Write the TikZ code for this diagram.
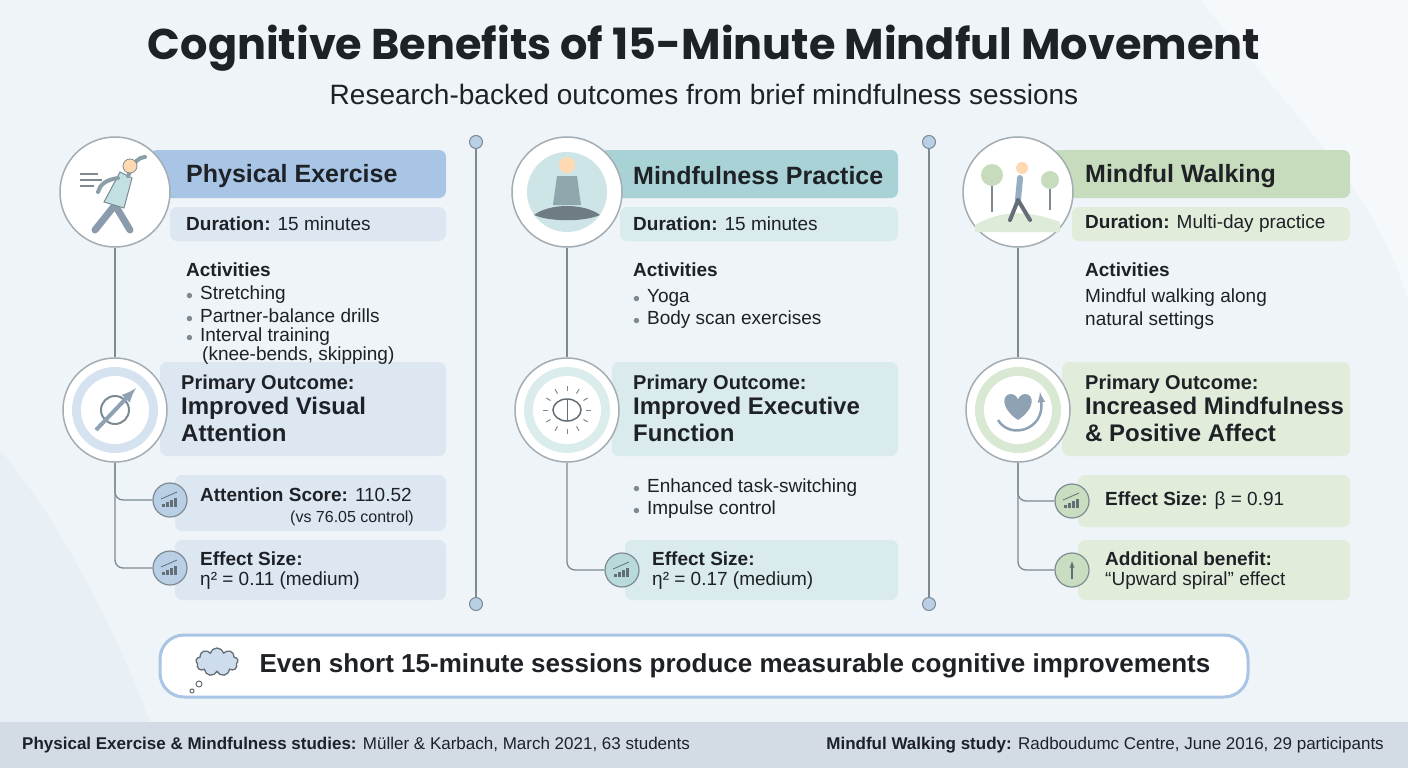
\documentclass[tikz,border=0pt]{standalone}
\usepackage{fontspec}
\setmainfont{Liberation Sans}
\newfontfamily\titlefont{Poppins}
\usetikzlibrary{shapes.geometric,shapes.symbols,calc}
\definecolor{bg}{HTML}{EEF4F7}
\definecolor{ink}{HTML}{1E2126}
\definecolor{lineg}{HTML}{7D8A92}
\definecolor{hA}{HTML}{A9C5E5}\definecolor{lA}{HTML}{DDE7F2}\definecolor{cA}{HTML}{B9CFE6}
\definecolor{hB}{HTML}{A8D2D5}\definecolor{lB}{HTML}{D9EBEC}\definecolor{cB}{HTML}{B8DADB}
\definecolor{hC}{HTML}{C6DCBC}\definecolor{lC}{HTML}{E2ECDB}\definecolor{cC}{HTML}{C9DEC0}
\definecolor{foot}{HTML}{D3DCE5}
\tikzset{
 px/.style={x=1pt,y=-1pt},
 bar/.style={rounded corners=7pt,draw=none},
 txt/.style={anchor=west,inner sep=0,text=ink,font=\fontsize{19}{23}\selectfont},
 hd/.style={anchor=west,inner sep=0,text=ink,font=\fontsize{25}{28}\selectfont\bfseries},
 big/.style={anchor=north west,inner sep=0,text=ink,align=left,font=\fontsize{24}{27}\selectfont\bfseries},
 conn/.style={draw=lineg,line width=1.3pt,rounded corners=8pt},
 icon/.style={circle,draw=lineg!70,line width=1.5pt,fill=white,minimum size=110pt},
 oicon/.style={circle,draw=lineg!70,line width=1.5pt,fill=white,minimum size=104pt},
 sm/.style={circle,draw=lineg,line width=1.2pt,minimum size=34pt},
 dot/.style={circle,draw=lineg,fill=cA,line width=1pt,minimum size=13pt,inner sep=0},
}
\newcommand{\bl}{\textcolor{lineg}{\scalebox{0.8}{$\bullet$}}\hspace{7pt}}
\begin{document}
\begin{tikzpicture}[px]
\useasboundingbox (0,0) rectangle (1408,768);
\fill[bg] (0,0) rectangle (1408,768);
\fill[white,opacity=0.5] (1200,0) .. controls (1300,120) and (1380,200) .. (1408,300) -- (1408,0) -- cycle;
\fill[cA!40,opacity=0.5] (0,450) .. controls (60,520) and (120,640) .. (150,722) -- (0,722) -- cycle;
% title
\node[font=\titlefont\fontsize{43}{46}\selectfont\bfseries,text=ink] (title) at (704,48) {Cognitive Benefits of 15-Minute Mindful Movement};
\node[font=\fontsize{28}{32}\selectfont,text=ink] (sub) at (704,94) {Research-backed outcomes from brief mindfulness sessions};
% dividers
\foreach \x/\n in {476/d1,929/d2}{
 \node[dot] (\n t) at (\x,142) {};
 \node[dot] (\n b) at (\x,604) {};
 \draw[lineg,line width=1.2pt] (\n t) -- (\n b);
}
% ================= column A
\fill[hA,bar] (150,150) rectangle (446,198);
\fill[lA,bar] (170,207) rectangle (446,241);
\fill[lA,bar] (160,362) rectangle (446,456);
\fill[lA,bar] (175,475) rectangle (446,531);
\fill[lA,bar] (175,540) rectangle (446,600);
\node[icon] (iA) at (115,192) {};
\node[oicon] (oA) at (115,410) {};
\node[circle,fill=cA!60,minimum size=86pt] at (oA) {};
\node[circle,fill=white,minimum size=68pt] at (oA) {};
\draw[conn] (iA) -- (oA);
\node[sm,fill=cA] (sA1) at (170,500) {};
\node[sm,fill=cA] (sA2) at (170,568) {};
\draw[conn] (oA) |- (sA1);
\draw[conn] (oA) |- (sA2);
% icon A: stretching figure
\draw[lineg!70!hA,line width=7pt,line cap=round] (95,230) -- (115,205) -- (130,230);
\fill[hB!70,draw=lineg,line width=1pt] (104,202) -- (124,208) -- (132,178) -- (120,172) -- cycle;
\draw[lineg!70!hB,line width=4pt,line cap=round] (118,178) .. controls (105,180) and (100,185) .. (98,192);
\draw[lineg!70!hB,line width=4pt,line cap=round] (128,176) .. controls (135,160) and (138,158) .. (145,157);
\fill[orange!30,draw=lineg,line width=0.8pt] (130,166) circle (7);
\foreach \yy/\l in {174/18,180/22,186/14}{\draw[lineg,line width=1.5pt] (80,\yy) -- ++(\l,0);}
% outcome icon A
\draw[lineg,line width=2pt] (115,410) circle (14);
\draw[-latex,line width=4pt,lineg!60!hA] (96,430) -- (136,388);
\node[hd] (hA) at (186,176) {Physical Exercise};
\node[txt] (duA) at (186,224) {\textbf{Duration:} 15 minutes};
\node[txt,font=\fontsize{19}{23}\selectfont\bfseries] (acA) at (186,270) {Activities};
\node[txt] (a1) at (186,295) {\bl Stretching};
\node[txt] (a2) at (186,316) {\bl Partner-balance drills};
\node[txt] (a3) at (186,337) {\bl Interval training};
\node[txt] (a4) at (202,356) {(knee-bends, skipping)};
\node[txt,font=\fontsize{20}{23}\selectfont\bfseries] (pA) at (181,384) {Primary Outcome:};
\node[big] (bA) at (181,397) {Improved Visual\\Attention};
\node[txt] (mA1) at (200,495) {\textbf{Attention Score:} 110.52};
\node[txt,font=\fontsize{16}{18}\selectfont] (mA1b) at (290,518) {(vs 76.05 control)};
\node[txt] (mA2) at (200,559) {\textbf{Effect Size:}};
\node[txt] (mA2b) at (200,581) {η² = 0.11 (medium)};
% ================= column B
\fill[hB,bar] (600,150) rectangle (898,198);
\fill[lB,bar] (620,207) rectangle (898,241);
\fill[lB,bar] (612,362) rectangle (898,456);
\fill[lB,bar] (625,540) rectangle (898,600);
\node[icon] (iB) at (567,192) {};
\node[circle,fill=cB!70,minimum size=80pt] at (iB) {};
\node[oicon] (oB) at (567,410) {};
\node[circle,fill=cB!50,minimum size=86pt] at (oB) {};
\node[circle,fill=white,minimum size=68pt] at (oB) {};
\draw[conn] (iB) -- (oB);
\node[sm,fill=cB] (sB1) at (622,570) {};
\draw[conn] (oB) |- (sB1);
% meditating figure
\fill[orange!30] (567,165) circle (8);
\fill[lineg!60!hB] (557,176) -- (577,176) -- (581,205) -- (553,205) -- cycle;
\fill[lineg!90!black] (534,215) .. controls (550,203) and (584,203) .. (600,215) .. controls (584,222) and (550,222) .. (534,215) -- cycle;
% brain
\draw[lineg!80!black,line width=1.5pt,fill=white] (567,410) ellipse (14 and 11);
\draw[lineg!80!black,line width=1pt] (567,399) -- (567,421);
\foreach \a in {0,30,...,330}{\draw[lineg,line width=1pt] ($(567,410)+(\a:19)$) -- ($(567,410)+(\a:24)$);}
\node[hd] (hB) at (633,176) {Mindfulness Practice};
\node[txt] (duB) at (633,224) {\textbf{Duration:} 15 minutes};
\node[txt,font=\fontsize{19}{23}\selectfont\bfseries] (acB) at (633,270) {Activities};
\node[txt] (b1) at (633,298) {\bl Yoga};
\node[txt] (b2) at (633,320) {\bl Body scan exercises};
\node[txt,font=\fontsize{20}{23}\selectfont\bfseries] (pB) at (633,384) {Primary Outcome:};
\node[big] (bBig) at (633,397) {Improved Executive\\Function};
\node[txt] (b3) at (633,488) {\bl Enhanced task-switching};
\node[txt] (b4) at (633,510) {\bl Impulse control};
\node[txt] (mB) at (652,559) {\textbf{Effect Size:}};
\node[txt] (mBb) at (652,581) {η² = 0.17 (medium)};
% ================= column C
\fill[hC,bar] (1052,150) rectangle (1350,198);
\fill[lC,bar] (1072,207) rectangle (1350,241);
\fill[lC,bar] (1062,362) rectangle (1350,456);
\fill[lC,bar] (1078,475) rectangle (1350,527);
\fill[lC,bar] (1078,540) rectangle (1350,600);
\node[icon] (iC) at (1018,192) {};
\node[oicon] (oC) at (1018,410) {};
\node[circle,fill=cC!70,minimum size=86pt] at (oC) {};
\node[circle,fill=white,minimum size=68pt] at (oC) {};
\draw[conn] (iC) -- (oC);
\node[sm,fill=cC] (sC1) at (1072,501) {};
\node[sm,fill=cC] (sC2) at (1072,570) {};
\draw[conn] (oC) |- (sC1);
\draw[conn] (oC) |- (sC2);
% walking scene
\fill[hC] (992,175) circle (11); \draw[lineg,line width=1.5pt] (992,186) -- (992,212);
\fill[hC] (1050,180) circle (9); \draw[lineg,line width=1.5pt] (1050,189) -- (1050,210);
\fill[cC!60] (975,225) .. controls (1010,205) and (1040,215) .. (1060,222) -- (1060,232) -- (975,232) -- cycle;
\fill[orange!30] (1022,168) circle (6);
\draw[hA!60!lineg,line width=6pt,line cap=round] (1020,178) -- (1018,200);
\draw[lineg!80!black,line width=4pt,line cap=round] (1018,200) -- (1010,220) (1018,200) -- (1030,220);
% heart with arrow
\fill[lineg!60!hA] (1018,420) .. controls (1000,408) and (1002,394) .. (1011,394) .. controls (1015,394) and (1018,398) .. (1018,400) .. controls (1018,398) and (1021,394) .. (1025,394) .. controls (1034,394) and (1036,408) .. (1018,420) -- cycle;
\draw[-latex,lineg!60!hA,line width=2.5pt] (998,420) .. controls (1010,440) and (1045,430) .. (1040,392);
\node[hd] (hC) at (1085,176) {Mindful Walking};
\node[txt] (duC) at (1085,224) {\textbf{Duration:} Multi-day practice};
\node[txt,font=\fontsize{19}{23}\selectfont\bfseries] (acC) at (1085,270) {Activities};
\node[txt] (c1) at (1085,298) {Mindful walking along};
\node[txt] (c2) at (1085,321) {natural settings};
\node[txt,font=\fontsize{20}{23}\selectfont\bfseries] (pC) at (1085,384) {Primary Outcome:};
\node[big] (bC) at (1085,397) {Increased Mindfulness\\\& Positive Affect};
\node[txt] (mC1) at (1105,501) {\textbf{Effect Size:} β = 0.91};
\node[txt] (mC2) at (1105,559) {\textbf{Additional benefit:}};
\node[txt] (mC2b) at (1105,581) {“Upward spiral” effect};
% small circle glyphs
\foreach \c in {sA1,sA2,sB1,sC1}{
 \foreach \i/\h in {0/3,1/5,2/7,3/9}{\fill[lineg!80!black] ($(\c)+(-8+4*\i,7)$) rectangle ++(2.5,-\h);}
 \draw[lineg!80!black,line width=0.8pt] ($(\c)+(-9,-1)$) -- ($(\c)+(7,-8)$);
}
\draw[-latex,lineg!80!black,line width=1.3pt] ($(sC2)+(0,9)$) -- ($(sC2)+(0,-9)$);
% ================= banner
\draw[draw=hA,line width=3pt,fill=white,rounded corners=24pt] (160,635) rectangle (1248,697);
\node[font=\fontsize{26}{30}\selectfont\bfseries,text=ink] (ban) at (735,666) {Even short 15-minute sessions produce measurable cognitive improvements};
\node[cloud,cloud puffs=9,draw=lineg!80!black,fill=cA!70,line width=1.3pt,minimum width=42pt,minimum height=28pt] (cl) at (217,662) {};
\draw[lineg!80!black,line width=1pt] (199,684) circle (3) (192,691) circle (2);
% footer
\fill[foot] (0,722) rectangle (1408,768);
\node[txt,font=\fontsize{17}{19}\selectfont] (f1) at (22,745) {\textbf{Physical Exercise \& Mindfulness studies:} Müller \& Karbach, March 2021, 63 students};
\node[anchor=east,inner sep=0,text=ink,font=\fontsize{17}{19}\selectfont] (f2) at (1384,745) {\textbf{Mindful Walking study:} Radboudumc Centre, June 2016, 29 participants};
\end{tikzpicture}
\end{document}
